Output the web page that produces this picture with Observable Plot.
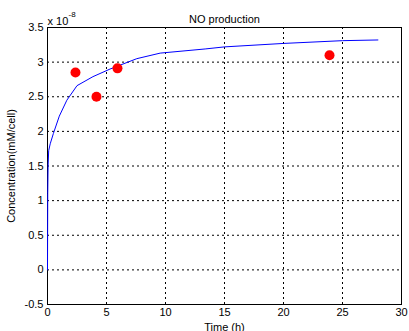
<!DOCTYPE html>
<html><head><meta charset="utf-8">
<script src="https://cdn.jsdelivr.net/npm/d3@7"></script>
<script src="https://cdn.jsdelivr.net/npm/@observablehq/plot@0.6"></script>
<style>body{margin:0;background:#fff;} svg{font-family:"Liberation Sans",Arial,sans-serif;}</style>
</head><body><div id="chart"></div>
<script>
const modelTime = [0, 0.02, 0.05, 0.1, 0.23, 0.5, 1.0, 1.64, 2.5, 3.85, 5.3, 7.57, 9.55, 13.36, 15.0, 20.0, 25.0, 28.0];
const modelConc = [0, 1.1, 1.5, 1.72, 1.82, 1.97, 2.22, 2.45, 2.66, 2.79, 2.9, 3.05, 3.13, 3.19, 3.22, 3.27, 3.31, 3.32];
const obsTime = [2.37, 4.15, 5.93, 23.9];
const obsConc = [2.85, 2.5, 2.91, 3.1];
const xTicks = [0, 5, 10, 15, 20, 25, 30];
const yTicks = [-0.5, 0, 0.5, 1, 1.5, 2, 2.5, 3, 3.5];

const model = modelTime.map((t, i) => ({t, c: modelConc[i]}));
const obs = obsTime.map((t, i) => ({t, c: obsConc[i]}));

const chart = Plot.plot({
  width: 409, height: 331,
  marginLeft: 47, marginRight: 8, marginTop: 27, marginBottom: 27,
  style: {fontSize: "11px", fontFamily: "Liberation Sans, Arial, sans-serif", color: "#000", background: "#fff"},
  x: {domain: [0, 30], ticks: xTicks, tickSize: 0, tickPadding: 4, tickFormat: d => String(d), label: "Time (h)", labelAnchor: "center", labelArrow: "none", labelOffset: 26},
  y: {domain: [-0.5, 3.5], ticks: yTicks, tickSize: 0, tickPadding: 4, tickFormat: d => String(d), label: "Concentration(mM/cell)", labelAnchor: "center", labelArrow: "none", labelOffset: 40},
  marks: [
    Plot.ruleX(xTicks.slice(1, -1), {stroke: "#000", strokeDasharray: "2,3", strokeWidth: 1, strokeOpacity: 1}),
    Plot.ruleY(yTicks.slice(1, -1), {stroke: "#000", strokeDasharray: "2,3", strokeWidth: 1, strokeOpacity: 1}),
    Plot.frame({stroke: "#000", strokeWidth: 1}),
    Plot.line(model, {x: "t", y: "c", stroke: "#0000ff", strokeWidth: 1}),
    Plot.dot(obs, {x: "t", y: "c", r: 5, fill: "#ff0000", stroke: "none"}),
    Plot.text(["NO production"], {frameAnchor: "top", dy: -12, fontSize: 11, fill: "#000"}),
    Plot.text(["x 10"], {frameAnchor: "top-left", dx: 0, dy: -10, fontSize: 11, fill: "#000", textAnchor: "start"}),
    Plot.text(["-8"], {frameAnchor: "top-left", dx: 21, dy: -16, fontSize: 8, fill: "#000", textAnchor: "start"})
  ]
});
document.getElementById("chart").append(chart);
</script></body></html>
